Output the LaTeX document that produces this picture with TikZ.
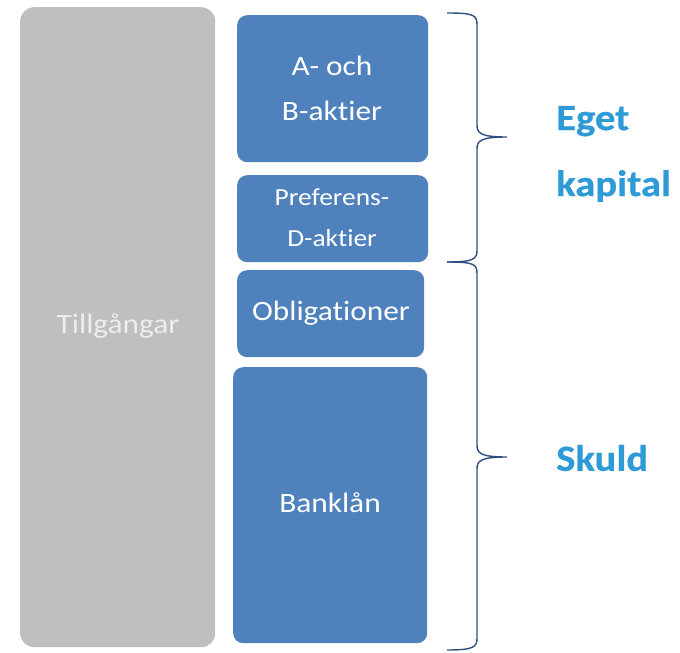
\documentclass[tikz,border=0pt]{standalone}
\usepackage{fontspec}
\setmainfont[Ligatures=NoCommon]{Carlito}
\newfontfamily\boxfont[Ligatures=NoCommon,FakeStretch=1.12]{Carlito}
\newfontfamily\sidefont[Ligatures=NoCommon,FakeStretch=1.1,FakeBold=0.6]{Carlito}
\definecolor{boxblue}{HTML}{4F81BD}
\definecolor{boxgray}{HTML}{BFBFBF}
\definecolor{bracecol}{HTML}{2F4F80}
\definecolor{labelblue}{HTML}{2E9BD6}
\definecolor{graytext}{HTML}{EDEDED}
\tikzset{
  bluebox/.style={fill=boxblue, rounded corners=10pt, inner sep=0pt, anchor=north west},
  graybox/.style={fill=boxgray, rounded corners=14pt, inner sep=0pt, anchor=north west},
  boxtext/.style={text=white, align=center, inner sep=0pt},
  bracepath/.style={draw=bracecol, line width=1.4pt},
  sidelabel/.style={text=labelblue, font=\sidefont\fontsize{37}{66}\selectfont\bfseries, anchor=west, align=left, inner sep=0pt}
}
\begin{document}
\begin{tikzpicture}[x=1pt,y=-1pt]
\useasboundingbox (0,0) rectangle (680,653);
\node[graybox, minimum width=195pt, minimum height=640pt] (assets) at (20,7) {};
\node[boxtext, text=graytext, font=\boxfont\fontsize{28}{30}\selectfont] (assetslabel) at (118,326) {Tillgångar};
\node[bluebox, minimum width=191pt, minimum height=147pt] (ab) at (237,15) {};
\node[boxtext, font=\boxfont\fontsize{28}{45}\selectfont] (abl) at (332,88) {A- och\\B-aktier};
\node[bluebox, minimum width=191pt, minimum height=87pt] (pref) at (237,175) {};
\node[boxtext, font=\boxfont\fontsize{24.5}{41}\selectfont] (prefl) at (332,218) {Preferens-\\D-aktier};
\node[bluebox, minimum width=187pt, minimum height=87pt] (obl) at (237,270) {};
\node[boxtext, font=\boxfont\fontsize{28}{30}\selectfont] (obll) at (331,313) {Obligationer};
\node[bluebox, minimum width=194pt, minimum height=276pt] (bank) at (233,367) {};
\node[boxtext, font=\boxfont\fontsize{28}{30}\selectfont] (bankl) at (330,503) {Banklån};
% braces
\draw[bracepath] (447,13) .. controls (474,13) and (477,15) .. (477,25) -- (477,125) .. controls (477,133) and (480,137) .. (507,137)
  .. controls (480,137) and (477,141) .. (477,149) -- (477,250) .. controls (477,259) and (474,262) .. (447,262);
\draw[bracepath] (447,262) .. controls (474,262) and (477,264) .. (477,274) -- (477,445) .. controls (477,453) and (480,457) .. (507,457)
  .. controls (480,457) and (477,461) .. (477,469) -- (477,638) .. controls (477,647) and (474,650) .. (447,650);
\node[sidelabel] (eget) at (556,154) {Eget\\kapital};
\node[sidelabel] (skuld) at (556,458) {Skuld};
\end{tikzpicture}
\end{document}
